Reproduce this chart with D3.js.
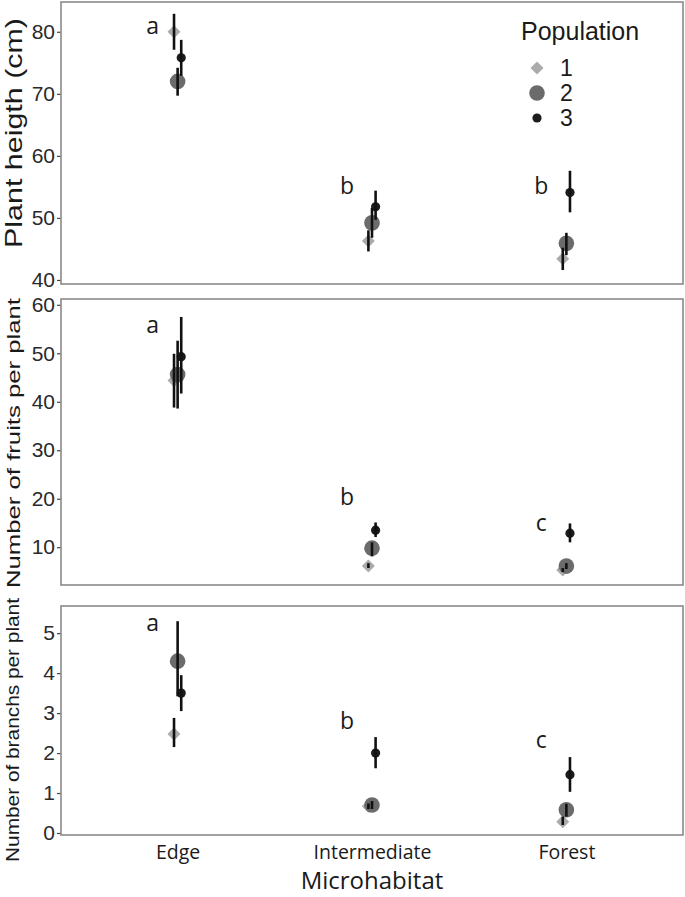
<!DOCTYPE html>
<html>
<head>
<meta charset="utf-8">
<script src="https://cdn.jsdelivr.net/npm/d3@7"></script>
<style>
	body { margin: 0; background: white; }
</style>
</head>
<body>
<div id="chart"></div>
<script>
// categories and groups
const habitats = ['Edge', 'Intermediate', 'Forest'];
const populations = ['1', '2', '3'];

// plant height, rows = habitat, cols = population
const heightMean = [[80.0, 72.0, 75.8], [46.3, 49.2, 51.8], [43.4, 45.9, 54.1]];
const heightLow  = [[77.1, 69.7, 72.9], [44.6, 46.8, 49.7], [41.6, 44.0, 50.9]];
const heightHigh = [[82.9, 74.2, 78.7], [48.0, 51.6, 54.4], [45.2, 47.6, 57.6]];
const heightTicks = [40, 50, 60, 70, 80];
const heightLetters = ['a', 'b', 'b'];
const heightLetterY = [80.8, 55.0, 55.0];

// fruits per plant
const fruitMean = [[44.4, 45.6, 49.3], [6.1, 9.8, 13.5], [5.3, 6.1, 12.9]];
const fruitLow  = [[38.8, 38.6, 41.7], [5.7, 8.1, 12.1], [4.9, 5.5, 11.0]];
const fruitHigh = [[49.9, 52.6, 57.5], [6.7, 11.0, 15.1], [5.7, 6.7, 14.9]];
const fruitTicks = [10, 20, 30, 40, 50, 60];
const fruitLetters = ['a', 'b', 'c'];
const fruitLetterY = [55.7, 20.3, 14.9];

// branches per plant
const branchMean = [[2.48, 4.30, 3.50], [0.67, 0.70, 2.00], [0.28, 0.58, 1.46]];
const branchLow  = [[2.15, 3.42, 3.05], [0.60, 0.60, 1.62], [0.20, 0.41, 1.03]];
const branchHigh = [[2.88, 5.30, 3.95], [0.74, 0.80, 2.40], [0.41, 0.73, 1.90]];
const branchTicks = [0, 1, 2, 3, 4, 5];
const branchLetters = ['a', 'b', 'c'];
const branchLetterY = [5.25, 2.78, 2.30];

const W = 685, H = 897;
const left = 61, right = 683;
const sans = "'Liberation Sans', Arial, sans-serif";
const humanist = "'Open Sans', sans-serif";

var svg = d3.select('#chart').append('svg')
	.attr('width', W)
	.attr('height', H)
	.style('font-family', sans)

svg.append('rect')
	.attr('width', W)
	.attr('height', H)
	.attr('fill', 'white')

var x = d3.scalePoint()
	.domain(habitats)
	.range([left, right])
	.padding(0.6)

// small dodge between populations
var dodge = d3.scalePoint()
	.domain(populations)
	.range([-3.6, 3.6])

const popFill = {'1': '#ababab', '2': '#6b6b6b', '3': '#1c1c1c'};

function marker(g, pop, cx, cy) {
	if (pop == '1') {
		var s = 6.5;
		g.append('path')
			.attr('d', `M${cx},${cy - s}L${cx + s},${cy}L${cx},${cy + s}L${cx - s},${cy}Z`)
			.attr('fill', popFill[pop])
	} else {
		g.append('circle')
			.attr('cx', cx)
			.attr('cy', cy)
			.attr('r', pop == '2' ? 7.8 : 4.6)
			.attr('fill', popFill[pop])
	}
}

function make_panel(p) {
	var y = d3.scaleLinear()
		.domain(p.domain)
		.range([p.bottom, p.top])

	var g = svg.append('g')

	// y axis
	var axis = g.append('g')
		.attr('transform', `translate(${left},0)`)
		.call(d3.axisLeft(y).tickValues(p.ticks).tickFormat(d3.format('d')).tickSize(4).tickPadding(2))
	axis.attr('font-family', null).attr('font-size', null)
	axis.select('.domain').remove()
	axis.selectAll('.tick line')
		.attr('stroke', '#444')
		.attr('stroke-width', 1.2)
	axis.selectAll('.tick text')
		.attr('fill', '#2a2a2a')
		.style('font-size', '21px')
		.style('font-family', sans)

	// points then error bars
	habitats.forEach(function(h, i) {
		populations.forEach(function(pop, j) {
			marker(g, pop, x(h) + dodge(pop), y(p.mean[i][j]))
		})
	})
	habitats.forEach(function(h, i) {
		populations.forEach(function(pop, j) {
			g.append('line')
				.attr('x1', x(h) + dodge(pop))
				.attr('x2', x(h) + dodge(pop))
				.attr('y1', y(p.low[i][j]))
				.attr('y2', y(p.high[i][j]))
				.attr('stroke', '#111')
				.attr('stroke-width', 2.6)
		})
	})

	// significance letters
	habitats.forEach(function(h, i) {
		g.append('text')
			.attr('x', x(h) - 25)
			.attr('y', y(p.letterY[i]))
			.attr('dy', '0.32em')
			.attr('text-anchor', 'middle')
			.style('font-family', humanist)
			.style('font-size', '23px')
			.attr('fill', '#1a1a1a')
			.text(p.letters[i])
	})

	// panel border
	g.append('rect')
		.attr('x', left)
		.attr('y', p.top)
		.attr('width', right - left)
		.attr('height', p.bottom - p.top)
		.attr('fill', 'none')
		.attr('stroke', '#8a8a8a')
		.attr('stroke-width', 1.6)

	// y title
	var t = svg.append('text')
		.attr('transform', `translate(${p.titleX},${p.titleY}) rotate(-90)`)
		.attr('text-anchor', 'middle')
		.attr('dy', '0.35em')
		.style('font-size', p.titleSize)
		.attr('fill', '#1a1a1a')
		.text(p.title)
	if (p.titleLen) {
		t.attr('textLength', p.titleLen)
			.attr('lengthAdjust', 'spacingAndGlyphs')
	}
	return y;
}

make_panel({top: 2, bottom: 284, domain: [39.35, 84.8], ticks: heightTicks,
	mean: heightMean, low: heightLow, high: heightHigh,
	letters: heightLetters, letterY: heightLetterY,
	title: 'Plant heigth (cm)', titleX: 14, titleY: 133, titleSize: '24px', titleLen: 230})

make_panel({top: 299, bottom: 585, domain: [2.2, 61.2], ticks: fruitTicks,
	mean: fruitMean, low: fruitLow, high: fruitHigh,
	letters: fruitLetters, letterY: fruitLetterY,
	title: 'Number of fruits per plant', titleX: 13, titleY: 443, titleSize: '19px', titleLen: 290})

make_panel({top: 606, bottom: 835, domain: [-0.05, 5.68], ticks: branchTicks,
	mean: branchMean, low: branchLow, high: branchHigh,
	letters: branchLetters, letterY: branchLetterY,
	title: 'Number of branchs per plant', titleX: 12, titleY: 730, titleSize: '19px', titleLen: 264})

// x axis under bottom panel
var xaxis = svg.append('g')
	.attr('transform', 'translate(0,835)')
	.call(d3.axisBottom(x).tickSize(0).tickPadding(10))
xaxis.select('.domain').remove()
xaxis.selectAll('.tick text')
	.attr('fill', '#1a1a1a')
	.style('font-family', humanist)
	.style('font-size', '19.5px')

svg.append('text')
	.attr('x', (left + right) / 2)
	.attr('y', 889)
	.attr('text-anchor', 'middle')
	.style('font-family', humanist)
	.style('font-size', '24px')
	.attr('fill', '#1a1a1a')
	.text('Microhabitat')

// legend
var legend = svg.append('g')
svg.append('text')
	.attr('x', 521)
	.attr('y', 40)
	.style('font-size', '25px')
	.attr('fill', '#1a1a1a')
	.text('Population')
populations.forEach(function(pop, j) {
	var ly = 68 + j * 25;
	marker(legend, pop, 537, ly)
	legend.append('text')
		.attr('x', 560)
		.attr('y', ly)
		.attr('dy', '0.36em')
		.style('font-size', '23px')
		.attr('fill', '#1a1a1a')
		.text(pop)
})
</script>
</body>
</html>
